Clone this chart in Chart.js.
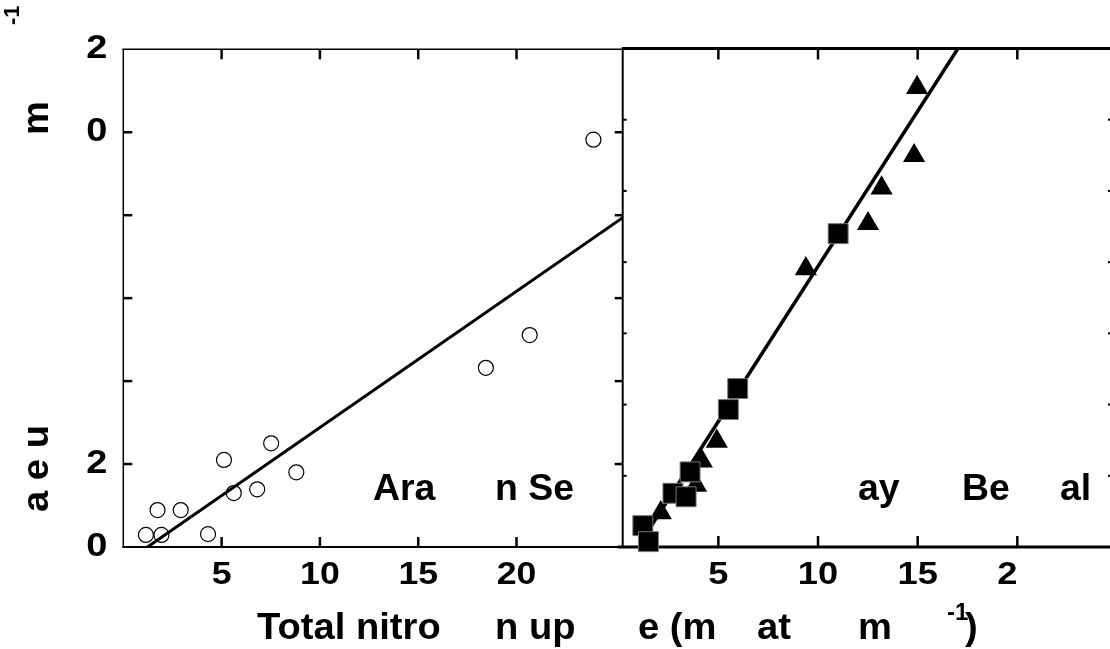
<!DOCTYPE html>
<html><head><meta charset="utf-8">
<script src="https://cdn.jsdelivr.net/npm/chart.js@4.4.1/dist/chart.umd.min.js"></script>
<style>
html,body{margin:0;padding:0;background:#fff;width:1110px;height:649px;overflow:hidden;position:relative;font-family:"Liberation Sans",Arial,sans-serif;}
canvas{position:absolute;top:0;}
.t{position:absolute;font-weight:bold;white-space:pre;line-height:1;color:#000;transform-origin:0 0;font-family:"Liberation Sans",Arial,sans-serif;}
</style></head><body>
<canvas id="cl" width="632" height="649" style="left:0;width:632px;height:649px"></canvas>
<canvas id="cr" width="520" height="649" style="left:600px;width:520px;height:649px"></canvas>
<div id="txt"></div>
<script>
// ---- data ----
const leftX = [1.15, 1.74, 1.94, 2.92, 4.31, 5.12, 5.62, 6.81, 7.52, 8.80, 18.44, 20.67, 23.91];
const leftY = [2.9, 8.9, 2.9, 8.9, 3.1, 21.0, 13.0, 13.9, 25.0, 18.0, 43.2, 51.1, 98.2];
const leftFitX = [1.23, 25.4];
const leftFitY = [0, 79.4];

const squareX = [1.21, 1.49, 2.72, 3.38, 3.58, 5.50, 5.97, 11.01];
const squareY = [6.0, 1.5, 15.1, 14.1, 21.1, 38.6, 44.5, 88.0];
const triX = [2.11, 3.88, 4.17, 4.92, 9.39, 12.51, 13.19, 14.82, 14.97];
const triY = [9.6, 17.3, 24.1, 29.7, 78.1, 90.8, 100.8, 109.9, 129.0];
const rightFitX = [1.63, 17.02];
const rightFitY = [5.9, 140];

// ---- ticks ----
const leftXTicks = [5, 10, 15, 20];
const leftXLabels = ["5", "10", "15", "20"];
const leftYTicks = [0, 20, 40, 60, 80, 100, 120];
const leftYLabels = ["0", "2", "", "", "", "0", "2"];
const leftYMarks = [20, 40, 60, 80, 100];
const rightXTicks = [5, 10, 15, 20];
const rightXLabels = ["5", "10", "15", "2  "];
const rightYMarks = [20, 40, 60, 80, 100, 120];

// ---- texts ----
const xTitle = ["Total nitro", "n up", "e (m", "at", "m", ")"];
const xTitleSup = "-1";
const yTitle = ["a e u", "m"];
const yTitleSup = "-1";
const leftPanelLabel = ["Ara", "n Se"];
const rightPanelLabel = ["ay", "Be", "al"];

const pts = (xs, ys) => xs.map((x, i) => ({x, y: ys[i]}));

const stretchPlugin = {
  id: 'stretch',
  beforeDraw(chart, args, opts) {
    const ctx = chart.ctx;
    if (ctx.__stretched) return;
    const orig = ctx.fillText;
    const sx = opts.sx || 1;
    ctx.fillText = function (t, x, y) {
      this.save(); this.translate(x, y); this.scale(sx, 1); orig.call(this, t, 0, 0); this.restore();
    };
    ctx.__stretched = true;
  }
};

const framePlugin = {
  id: 'frame',
  beforeDatasetsDraw(chart, args, o) {
    const ctx = chart.ctx, a = chart.chartArea;
    const xs = chart.scales.x, ys = chart.scales.y;
    ctx.save();
    ctx.strokeStyle = '#000';
    ctx.lineCap = 'butt';
    const line = (x1, y1, x2, y2, w) => { ctx.lineWidth = w; ctx.beginPath(); ctx.moveTo(x1, y1); ctx.lineTo(x2, y2); ctx.stroke(); };
    if (o.top) line(a.left - 1, a.top, a.right + 1, a.top, o.top);
    if (o.bottom) line(a.left - (o.bottomExt || 1), a.bottom, a.right + 1, a.bottom, o.bottom);
    if (o.left) line(a.left, a.top, a.left, a.bottom, o.left);
    if (o.right) line(a.right, a.top, a.right, a.bottom, o.right);
    (o.xMarks || []).forEach(v => {
      const p = xs.getPixelForValue(v);
      line(p, a.top, p, a.top + o.xLen, o.xW);
      line(p, a.bottom, p, a.bottom - o.xLen, o.xW);
    });
    (o.yMarksL || []).forEach(v => {
      const p = ys.getPixelForValue(v);
      line(a.left, p, a.left + o.yLenL, p, o.yW);
    });
    (o.yMarksR || []).forEach(v => {
      const p = ys.getPixelForValue(v);
      line(a.right, p, a.right - o.yLenR, p, o.yW);
    });
    ctx.restore();
  }
};

const xTickFont = {family: '"Liberation Sans", Arial, sans-serif', size: 31, weight: 'bold'};
const yTickFont = {family: '"Liberation Sans", Arial, sans-serif', size: 33, weight: 'bold'};

new Chart(document.getElementById('cl'), {
  type: 'scatter',
  data: {
    datasets: [
      {type: 'line', data: pts(leftFitX, leftFitY), borderColor: '#000', borderWidth: 3, pointRadius: 0, fill: false, order: 0},
      {data: pts(leftX, leftY), pointStyle: 'circle', pointRadius: 7.5, pointBackgroundColor: 'rgba(0,0,0,0)', pointBorderColor: '#000', pointBorderWidth: 1.2, clip: false, order: 1}
    ]
  },
  options: {
    responsive: false, animation: false, devicePixelRatio: 1,
    layout: {autoPadding: false, padding: {left: 0, top: 49.3, right: 9.3, bottom: 0}},
    plugins: {
      legend: {display: false}, tooltip: {enabled: false},
      stretch: {sx: 1.15},
      frame: {top: 1.5, bottom: 2, left: 1.5, right: 2, bottomExt: 1,
              xMarks: leftXTicks, xLen: 10, xW: 2.5,
              yMarksL: leftYMarks, yLenL: 9, yMarksR: leftYMarks, yLenR: 8, yW: 2.5}
    },
    scales: {
      x: {type: 'linear', min: 0, max: 25.4, position: 'bottom',
          afterBuildTicks: s => { s.ticks = leftXTicks.map(v => ({value: v})); },
          afterFit: s => { s.height = 102; },
          grid: {display: false, drawTicks: false}, border: {display: false},
          ticks: {padding: 10, autoSkip: false, maxRotation: 0, color: '#000', font: xTickFont,
                  callback: v => leftXLabels[leftXTicks.indexOf(v)]}},
      y: {type: 'linear', min: 0, max: 120,
          afterBuildTicks: s => { s.ticks = leftYTicks.map(v => ({value: v})); },
          afterFit: s => { s.width = 123.3; },
          grid: {display: false, drawTicks: false}, border: {display: false},
          ticks: {padding: 16, autoSkip: false, color: '#000', font: yTickFont,
                  callback: v => leftYLabels[leftYTicks.indexOf(v)]}}
    }
  },
  plugins: [stretchPlugin, framePlugin]
});

new Chart(document.getElementById('cr'), {
  type: 'scatter',
  data: {
    datasets: [
      {type: 'line', data: pts(rightFitX, rightFitY), borderColor: '#000', borderWidth: 3.5, pointRadius: 0, fill: false, order: 3},
      {data: pts(triX, triY), pointStyle: 'triangle', pointRadius: 12.8, pointBackgroundColor: '#000', pointBorderColor: '#000', pointBorderWidth: 0, clip: false, order: 2},
      {data: pts(squareX, squareY), pointStyle: 'rect', pointRadius: 14.1, pointBackgroundColor: '#000', pointBorderColor: '#777', pointBorderWidth: 1, clip: false, order: 1}
    ]
  },
  options: {
    responsive: false, animation: false, devicePixelRatio: 1,
    layout: {autoPadding: false, padding: {left: 22.7, top: 48.5, right: 9, bottom: 0}},
    plugins: {
      legend: {display: false}, tooltip: {enabled: false},
      stretch: {sx: 1.17},
      frame: {top: 3, bottom: 3, bottomExt: 5,
              xMarks: rightXTicks, xLen: 11, xW: 2.5,
              yMarksL: rightYMarks, yLenL: 4, yMarksR: rightYMarks, yLenR: 3, yW: 2}
    },
    scales: {
      x: {type: 'linear', min: 0.2, max: 24.7, position: 'bottom',
          afterBuildTicks: s => { s.ticks = rightXTicks.map(v => ({value: v})); },
          afterFit: s => { s.height = 102; },
          grid: {display: false, drawTicks: false}, border: {display: false},
          ticks: {padding: 10, autoSkip: false, maxRotation: 0, color: '#000', font: xTickFont,
                  callback: v => rightXLabels[rightXTicks.indexOf(v)]}},
      y: {type: 'linear', min: 0, max: 140, display: false}
    }
  },
  plugins: [stretchPlugin, framePlugin]
});

// ---- HTML texts ----
const txt = document.getElementById('txt');
function put(text, x, baseline, size, sx, rot) {
  const s = document.createElement('span');
  s.className = 't';
  s.textContent = text;
  s.style.fontSize = size + 'px';
  if (rot) {
    s.style.left = (baseline - 0.8465 * size) + 'px';
    s.style.top = x + 'px';
    s.style.transform = 'rotate(-90deg) scaleX(' + sx + ')';
  } else {
    s.style.left = x + 'px';
    s.style.top = (baseline - 0.8465 * size) + 'px';
    s.style.transform = 'scaleX(' + sx + ')';
  }
  txt.appendChild(s);
}
const xTitlePos = [257, 495, 638, 757, 858, 965];
xTitle.forEach((t, i) => put(t, xTitlePos[i], 639.5, 36, 1.06));
put(xTitleSup, 947, 620, 24, 1.0);
const lpPos = [373, 495];
leftPanelLabel.forEach((t, i) => put(t, lpPos[i], 500, 36, 1.04));
const rpPos = [858, 962, 1060];
rightPanelLabel.forEach((t, i) => put(t, rpPos[i], 500, 36, 1.04));
const yPos = [512, 135];
yTitle.forEach((t, i) => put(t, yPos[i], 48, 36, 1.06, true));
put(yTitleSup, 25, 20, 22, 1.0, true);
</script>
</body></html>
